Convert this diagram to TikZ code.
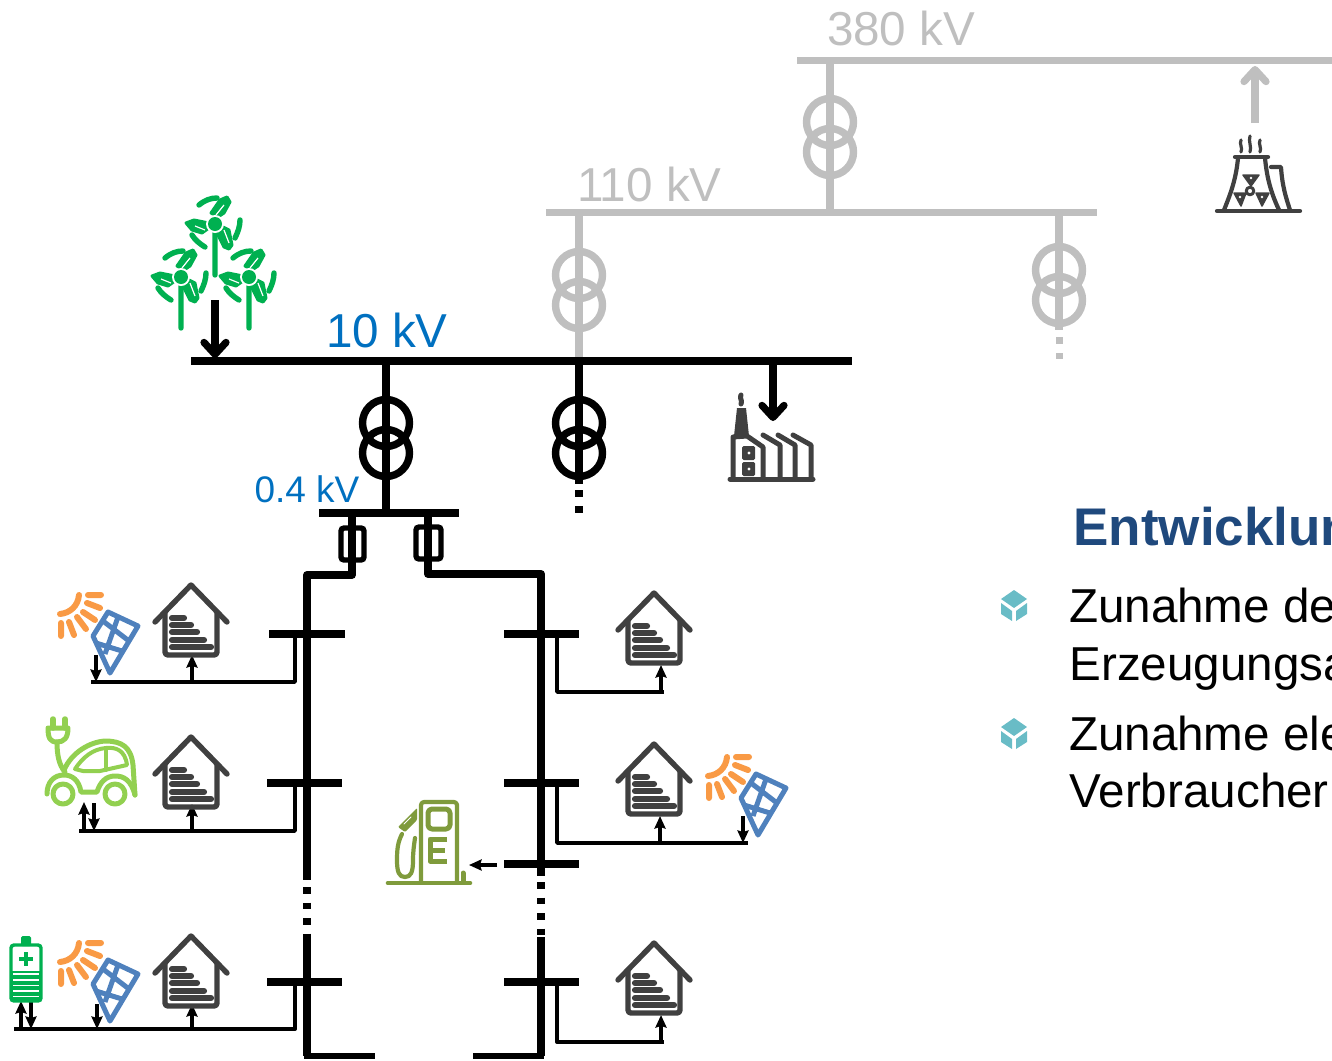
\documentclass[tikz,border=0pt]{standalone}
\usepackage{fontspec}
\setmainfont{Liberation Sans}
\usetikzlibrary{arrows.meta}
\definecolor{gbus}{HTML}{BFBFBF}
\definecolor{kvblue}{HTML}{0070C0}
\definecolor{titleblue}{HTML}{1F497D}
\definecolor{icon}{HTML}{404040}
\definecolor{wind}{HTML}{00B050}
\definecolor{sun}{HTML}{F99A45}
\definecolor{panel}{HTML}{4F81BD}
\definecolor{ev}{HTML}{92D050}
\definecolor{pump}{HTML}{7F9B3C}
\definecolor{cube}{HTML}{69BCC6}
\tikzset{
  x=1pt,y=-1pt,
  bus/.style={line width=7.8pt},
  thin link/.style={line width=3.8pt,line join=round},
  small arrow/.style={line width=4pt,-{Stealth[length=12.5pt,width=11pt,inset=1.5pt]}},
  big arrow/.style={line width=7.2pt,-{Straight Barb[length=12pt,width=22pt,round]}},
  txt/.style={anchor=base west,inner sep=0pt,outer sep=0pt},
  trafo/.pic={
    \draw[line width=7.4pt] (0,0) circle[radius=23.5];
    \draw[line width=7.4pt] (0,30) circle[radius=23.5];
  },
  house/.pic={
    \draw[icon,line width=5.4pt,line cap=round,line join=round] (-36,37) -- (0,0) -- (36,37);
    \draw[icon,line width=5.4pt,line join=round,rounded corners=3pt] (-26,26) -- (-26,70) -- (26,70) -- (26,26);
    \draw[icon,line width=6.2pt,line cap=round]
      (-19,33) -- (-7,33) (-19,40) -- (0,40) (-19,47) -- (6,47) (-19,55) -- (13,55) (-19,62) -- (20,62);
  },
  solar/.pic={
    \draw[sun,line width=6pt,line cap=round]
      (79,595) .. controls (78,606) and (70,613) .. (60,614)
      (88,595) -- (101,595) (87,603) -- (100,608) (83,612) -- (95,620)
      (77,617) -- (86,629) (69,622) -- (74,635) (61,623) -- (61,636);
    \draw[panel,line width=5pt,line join=round]
      (108,612) -- (138,626) -- (110,673) -- (93,636) -- cycle
      (118,617) -- (105,654) (103,621) -- (129,641) (96,643) -- (122,651);
  },
  turbine/.pic={
    \fill[wind,draw=wind,line width=3pt,line join=round]
      (-4,-11) -- (5,-24) -- (12,-27) -- (15,-22) -- (9,-11) -- (3,-7) -- cycle
      (-29,-1) -- (-21,-4) -- (-6,-1) -- (-6,4) -- (-13,9) -- (-23,6) -- cycle
      (6,2) -- (14,6) -- (17,21) -- (14,25) -- (9,23) -- (3,11) -- cycle;
    \draw[white,line width=1.2pt] (1,-9) -- (9,-19) (-20,2) -- (-10,6) (9,6) -- (14,19);
    \draw[wind,line width=5.4pt,line cap=round]
      (-16,-19) .. controls (-10,-24) and (-4,-26) .. (2,-26)
      (25,-4) .. controls (25,2) and (23,8) .. (20,14)
      (-23,11) .. controls (-20,16) and (-15,20) .. (-10,23)
      (0,8) -- (0,51);
    \fill[white] (0,0) circle[radius=9];
    \fill[wind] (0,0) circle[radius=7];
  },
  bullet/.pic={
    \fill[cube] (0,-15) -- (13,-6) -- (0,3) -- (-13,-6) -- cycle;
    \fill[cube] (-13,-2) -- (-2,6) -- (-2,16) -- (-13,9) -- cycle;
    \fill[cube] (2,6) -- (13,-2) -- (13,9) -- (2,16) -- cycle;
  },
}
\begin{document}
\begin{tikzpicture}
\useasboundingbox (0,0) rectangle (1332,1060);
\clip (0,0) rectangle (1332,1060);

%% ---- coordinates used by the connectors
\coordinate (a) at (797,60.5);   \coordinate (b) at (1332,60.5);
\coordinate (c) at (546,212.5);  \coordinate (d) at (1097,212.5);
\coordinate (ta) at (830,60);  \coordinate (tb) at (830,213);
\coordinate (tc) at (579,213); \coordinate (td) at (579,361);
\coordinate (te) at (1059,213);\coordinate (tf) at (1059,330);
\coordinate (tfa) at (1059,337);\coordinate (tfb) at (1059,359);
\coordinate (na) at (1255,123);\coordinate (nb) at (1255,66);
\coordinate (m) at (191,361);  \coordinate (n) at (852,361);
\coordinate (ma) at (386,361); \coordinate (mb) at (386,513);
\coordinate (mc) at (579,361); \coordinate (md) at (579,484);
\coordinate (me) at (579,490); \coordinate (mf) at (579,513);
\coordinate (wa) at (215,300); \coordinate (wb) at (215,358);
\coordinate (fa) at (773,364); \coordinate (fb) at (773,421);
\coordinate (l) at (319,513);  \coordinate (r) at (459,513);
\coordinate (fl) at (352,513); \coordinate (flb) at (352,575); \coordinate (lv) at (307,575);
\coordinate (fr) at (428,513); \coordinate (frb) at (428,574); \coordinate (rv) at (541,574);
\coordinate (lva) at (307,880); \coordinate (lvb) at (307,934); \coordinate (lvc) at (307,1056);
\coordinate (rva) at (541,876); \coordinate (rvb) at (541,937); \coordinate (rvc) at (541,1056);
\coordinate (lve) at (375,1056); \coordinate (rve) at (473,1056);

%% ---- grey upper levels
\begin{scope}[draw=gbus,color=gbus]
  \draw[bus] (a) -- (b);
  \draw[bus] (c) -- (d);
  \draw[bus] (ta) -- (tb);
  \draw[bus] (tc) -- (td);
  \draw[bus] (te) -- (tf);
  \pic at (830,122) {trafo};
  \pic at (579,275) {trafo};
  \pic at (1059,270) {trafo};
  \draw[line width=7pt,dash pattern=on 7pt off 9pt] (tfa) -- (tfb);
  \draw[big arrow,draw=gbus] (na) -- (nb);
\end{scope}
\node[txt,text=gbus,font=\fontsize{47.6}{47.6}\selectfont] (t380) at (827,45) {380 kV};
\node[txt,text=gbus,font=\fontsize{47.6}{47.6}\selectfont] (t110) at (577,201) {110 kV};

%% ---- black levels
\draw[line width=8pt] (m) -- (n);
\draw[bus] (ma) -- (mb);
\draw[bus] (mc) -- (md);
\draw[line width=7.4pt,dash pattern=on 7pt off 9pt] (me) -- (mf);
\pic at (386,423) {trafo};
\pic at (579,423) {trafo};
\node[txt,text=kvblue,font=\fontsize{47.6}{47.6}\selectfont] (t10) at (326,347) {10 kV};
\node[txt,text=kvblue,font=\fontsize{37}{37}\selectfont] (t04) at (254.5,502) {0.4 kV};
\draw[big arrow] (wa) -- (wb);
\draw[big arrow] (fa) -- (fb);

\draw[bus] (l) -- (r);
\draw[bus,line join=round] (fl) -- (flb) -- (lv) -- (lva);
\draw[bus,line join=round] (fr) -- (frb) -- (rv) -- (rva);
\draw[line width=5.4pt,rounded corners=3pt] (341,528) rectangle (364,560);
\draw[line width=5.4pt,rounded corners=3pt] (416,527) rectangle (441,559);
\draw[line width=7.5pt,dash pattern=on 6.5pt off 9pt] (lva)++(0,7) -- (lvb);
\draw[line width=7.5pt,dash pattern=on 6.5pt off 9pt] (rva)++(0,6) -- (rvb);
\draw[bus] (lvb) -- (lvc);
\draw[bus] (rvb) -- (rvc);
\draw[line width=6.4pt] (304,1056) -- (lve);
\draw[line width=6.4pt] (rve) -- (544,1056);

%% cross bars
\foreach \nm/\xa/\xb/\yy in {ba/269/345/634,bb/267/342/783,bc/267/342/982,
                             ca/504/579/634,cb/504/579/783,cc/504/579/864,cd/504/579/982}{
  \coordinate (\nm1) at (\xa,\yy);
  \coordinate (\nm2) at (\xb,\yy);
  \draw[bus] (\nm1) -- (\nm2);
}

%% house branches
\coordinate (q1) at (295,634); \coordinate (q2) at (295,682); \coordinate (q3) at (91,682);
\coordinate (q4) at (295,783); \coordinate (q5) at (295,831); \coordinate (q6) at (79,831);
\coordinate (q7) at (295,982); \coordinate (q8) at (295,1029); \coordinate (q9) at (14,1029);
\coordinate (p1) at (557,634); \coordinate (p2) at (557,692); \coordinate (p3) at (664,692);
\coordinate (p4) at (557,783); \coordinate (p5) at (557,843); \coordinate (p6) at (748,843);
\coordinate (p7) at (557,982); \coordinate (p8) at (557,1042); \coordinate (p9) at (664,1042);
\draw[thin link] (q1) -- (q2) -- (q3);
\draw[thin link] (q4) -- (q5) -- (q6);
\draw[thin link] (q7) -- (q8) -- (q9);
\draw[thin link] (p1) -- (p2) -- (p3);
\draw[thin link] (p4) -- (p5) -- (p6);
\draw[thin link] (p7) -- (p8) -- (p9);

%% small arrows
\foreach \xx/\ya/\yb in {192/682/655, 84/831/802, 192/831/804, 21/1029/1001, 192/1029/1004,
                         661/692/665, 660/843/816, 661/1042/1015,
                         96/655/682, 94/803/831, 31/1002/1029, 97/1004/1029, 743/816/843}{
  \coordinate (u) at (\xx,\ya);
  \coordinate (v) at (\xx,\yb);
  \draw[small arrow] (u) -- (v);
}
\coordinate (ga) at (497,865); \coordinate (gb) at (469,865);
\draw[small arrow] (ga) -- (gb);

%% houses
\foreach \xx/\yy in {191/585,191/737,191/936,654/593,654/744,654/943}
  \pic at (\xx,\yy) {house};

%% solar
\pic at (0,0) {solar};
\pic at (0,348) {solar};
\pic at (648,162) {solar};

%% turbines
\pic at (215,224) {turbine};
\pic at (181,277) {turbine};
\pic at (249,277) {turbine};

%% EV
\begin{scope}[ev,line width=5pt,line cap=round,line join=round]
  \draw[line width=5.5pt] (53,719) -- (53,728) (65,719) -- (65,728);
  \draw (48,728) -- (68,728) .. controls (68,738) and (64,742) .. (57,742) .. controls (50,742) and (48,738) .. (48,728);
  \draw (57,742) .. controls (57,755) and (59,765) .. (65,772);
  \draw (64,770) .. controls (72,752) and (90,742) .. (105,741)
        .. controls (122,741) and (131,747) .. (133,765) -- (135,795);
  \draw[line width=4pt] (75,769) .. controls (83,757) and (93,749) .. (106,748)
        .. controls (116,747) and (125,750) .. (127,765) -- (100,771) -- (83,771) -- cycle;
  \draw[line width=4pt] (106,749) -- (106,770);
  \draw (47,794) .. controls (47,782) and (54,775) .. (64,775)
        .. controls (72,775) and (79,780) .. (81,792) -- (97,792)
        .. controls (100,782) and (106,776) .. (115,776) .. controls (124,776) and (131,780) .. (135,795);
  \draw (63,794) circle[radius=10];
  \draw (115,794) circle[radius=10];
\end{scope}

%% battery
\begin{scope}
  \fill[wind,rounded corners=1.5pt] (21,936) rectangle (31,946);
  \draw[wind,line width=3.4pt,rounded corners=3pt] (11,945) rectangle (41,1001);
  \fill[wind] (11,971) rectangle (41,1001);
  \draw[white,line width=1.6pt] (13,974) -- (39,974) (13,980) -- (39,980) (13,985.5) -- (39,985.5) (13,991) -- (39,991) (13,996.5) -- (39,996.5);
  \draw[wind,line width=3.6pt] (19,959) -- (33,959) (26,952) -- (26,966);
\end{scope}

%% factory
\begin{scope}[icon,line width=5pt,line join=round,line cap=round]
  \draw (730,479) -- (813,479);
  \draw (733,479) -- (733,437) -- (747,436) -- (763,447) -- (763,479);
  \draw (763,435) -- (780,445) -- (780,479);
  \draw (778,435) -- (795,445) -- (795,479);
  \draw (793,435) -- (811,445) -- (811,479);
  \fill (734,436) -- (737,408) -- (746,408) -- (749,436) -- cycle;
  \draw[line width=5pt] (741,395) .. controls (739,398) and (743,401) .. (741,404);
  \fill[rounded corners=1.5pt] (742,446) rectangle (755,460);
  \fill[rounded corners=1.5pt] (742,462) rectangle (755,476);
  \fill[white] (749,453) circle[radius=1.7] (749,469) circle[radius=1.7];
\end{scope}

%% nuclear plant
\begin{scope}[icon,line width=4.2pt,line join=round,line cap=round]
  \draw (1217,211) -- (1300,211);
  \draw (1235,157) -- (1268,157);
  \draw (1238,158) .. controls (1236,180) and (1230,195) .. (1224,210);
  \draw (1265,158) .. controls (1267,180) and (1272,195) .. (1279,210);
  \draw (1271,167) -- (1281,167) .. controls (1282,185) and (1286,198) .. (1290,210);
  \draw[line width=3.2pt] (1241,140) .. controls (1239,144) and (1243,148) .. (1241,152)
        (1250,136) .. controls (1248,141) and (1252,147) .. (1250,152)
        (1260,140) .. controls (1258,144) and (1262,148) .. (1260,152);
  \fill[draw=icon,line width=1.5pt] (1243,175) -- (1259,175) -- (1251,186) -- cycle;
  \fill[draw=icon,line width=1.5pt] (1234,193) -- (1246,193) -- (1241,206) -- cycle;
  \fill[draw=icon,line width=1.5pt] (1256,193) -- (1269,193) -- (1262,206) -- cycle;
  \draw[line width=3pt] (1250,191) circle[radius=3.8];
  \fill[white] (1251,178) circle[radius=1.3] (1240,197) circle[radius=1.3] (1262,197) circle[radius=1.3];
\end{scope}

%% fuel pump
\begin{scope}[pump,line cap=round,line join=round]
  \draw[line width=4.6pt] (388,883) -- (470,883);
  \draw[line width=4.2pt,rounded corners=3pt] (421,882) -- (421,802) -- (457,802) -- (457,882);
  \draw[line width=5pt,rounded corners=4pt] (428,809) rectangle (450,829);
  \draw[line width=5pt,line cap=butt] (447,839) -- (430,839) -- (430,861) -- (447,861) (430,850) -- (445,850);
  \fill[rounded corners=1pt] (398,827) -- (413,812) -- (417,808) -- (417,820) -- (405,832) -- cycle;
  \draw[white,line width=1pt] (404,824) -- (411,817);
  \draw[line width=4.2pt] (402,834) .. controls (398,842) and (397,848) .. (397,860)
     .. controls (397,872) and (399,877) .. (405,877) .. controls (411,877) and (413,872) .. (413,860) .. controls (413,852) and (414,845) .. (415,838);
  \draw[line width=5pt] (463,873) -- (463,882);
\end{scope}

%% text block
\node[txt,text=titleblue,font=\bfseries\fontsize{53}{53}\selectfont] (h) at (1073.5,545) {Entwicklun};
\node[txt,font=\fontsize{47.6}{47.6}\selectfont] (l1) at (1069,622) {Zunahme de};
\node[txt,font=\fontsize{47.6}{47.6}\selectfont] (l2) at (1069.5,680) {Erzeugungsa};
\node[txt,font=\fontsize{47.6}{47.6}\selectfont] (l3) at (1069,750) {Zunahme ele};
\node[txt,font=\fontsize{47.6}{47.6}\selectfont] (l4) at (1069.5,807) {Verbraucher};
\pic at (1014,605) {bullet};
\pic at (1014,733) {bullet};
\end{tikzpicture}
\end{document}
